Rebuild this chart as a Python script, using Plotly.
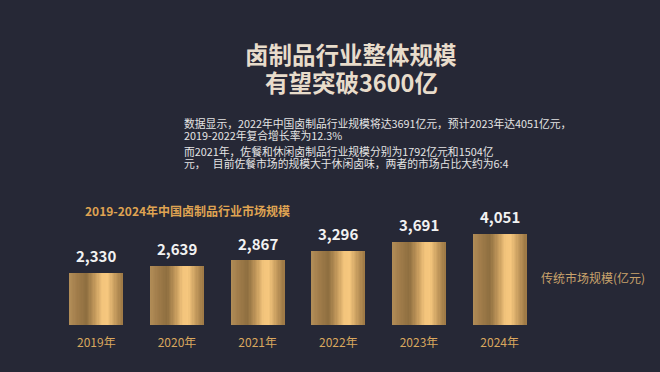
import plotly.graph_objects as go

# ---- data ----
years = ["2019年", "2020年", "2021年", "2022年", "2023年", "2024年"]
values = [2330, 2639, 2867, 3296, 3691, 4051]
value_labels = ["2,330", "2,639", "2,867", "3,296", "3,691", "4,051"]
title_lines = ["卤制品行业整体规模", "有望突破3600亿"]
body_lines = [
    "数据显示，2022年中国卤制品行业规模将达3691亿元，预计2023年达4051亿元，",
    "2019-2022年复合增长率为12.3%",
    "而2021年，佐餐和休闲卤制品行业规模分别为1792亿元和1504亿",
    "元，   目前佐餐市场的规模大于休闲卤味，两者的市场占比大约为6:4",
]
chart_title = "2019-2024年中国卤制品行业市场规模"
series_name = "传统市场规模(亿元)"

# ---- layout geometry ----
W, H = 660, 372
ML, MR, MT, MB = 56, 120, 190, 47
PW, PH = W - ML - MR, H - MT - MB
FONT = "Noto Sans CJK SC, Noto Sans, sans-serif"
BG = "#262836"

def px(x):
    return (x - ML) / PW

def py(y):
    return (H - MB - y) / PH

# metallic gold gradient stops (position, rgb)
stops = [
    (0.00, (178, 141, 88)),
    (0.15, (160, 124, 74)),
    (0.32, (142, 110, 64)),
    (0.48, (196, 154, 92)),
    (0.62, (243, 196, 124)),
    (0.72, (246, 199, 126)),
    (0.86, (198, 156, 94)),
    (1.00, (156, 120, 69)),
]

def grad(t):
    for (p0, c0), (p1, c1) in zip(stops[:-1], stops[1:]):
        if p0 <= t <= p1:
            f = (t - p0) / (p1 - p0) if p1 > p0 else 0
            return "rgb(%d,%d,%d)" % tuple(round(a + (b - a) * f) for a, b in zip(c0, c1))
    return "rgb(%d,%d,%d)" % stops[-1][1]

fig = go.Figure()
bw = 0.66
N = 40
step = bw / N
for i in range(N):
    t = (i + 0.5) / N
    fig.add_trace(go.Bar(
        x=years, y=values,
        width=step * 1.25, offset=-bw / 2 + i * step,
        marker=dict(color=grad(t), line=dict(width=0)),
        hoverinfo="skip", showlegend=False,
    ))

annotations = []
for yr, v, lab in zip(years, values, value_labels):
    annotations.append(dict(
        x=yr, y=v, xref="x", yref="y", text="<b>%s</b>" % lab, showarrow=False,
        yanchor="middle", yshift=17, font=dict(family=FONT, size=15, color="#f2f2f2"),
    ))

# titles
for line, yy in zip(title_lines, [54, 82]):
    annotations.append(dict(x=px(351), y=py(yy), xref="paper", yref="paper",
                            text="<b>%s</b>" % line, showarrow=False,
                            xanchor="center", yanchor="middle",
                            font=dict(family=FONT, size=23.5, color="#e8dccb")))

for line, yy in zip(body_lines, [123, 135, 151, 163]):
    annotations.append(dict(x=px(182), y=py(yy), xref="paper", yref="paper",
                            text=line, showarrow=False, xanchor="left", yanchor="middle",
                            font=dict(family=FONT, size=10.8, color="#e4e4e4")))

annotations.append(dict(x=px(83), y=py(210), xref="paper", yref="paper",
                        text="<b>%s</b>" % chart_title, showarrow=False,
                        xanchor="left", yanchor="middle",
                        font=dict(family=FONT, size=12, color="#dfa352")))

annotations.append(dict(x=px(539), y=py(277), xref="paper", yref="paper",
                        text=series_name, showarrow=False,
                        xanchor="left", yanchor="middle",
                        font=dict(family=FONT, size=12, color="#c9a36c")))

fig.update_layout(
    width=W, height=H,
    margin=dict(l=ML, r=MR, t=MT, b=MB),
    paper_bgcolor=BG, plot_bgcolor=BG,
    barmode="overlay", bargap=0,
    showlegend=False,
    annotations=annotations,
    xaxis=dict(type="category", range=[-0.5, 5.5], showgrid=False, zeroline=False,
               showline=False, ticks="", ticklabelstandoff=9,
               tickfont=dict(family=FONT, size=12, color="#d9a75e")),
    yaxis=dict(range=[0, 6000], visible=False, showgrid=False, zeroline=False),
)

fig.write_html("out.html", config={"displayModeBar": False},
               post_script="document.body.style.margin='0';document.body.style.overflow='hidden';")
